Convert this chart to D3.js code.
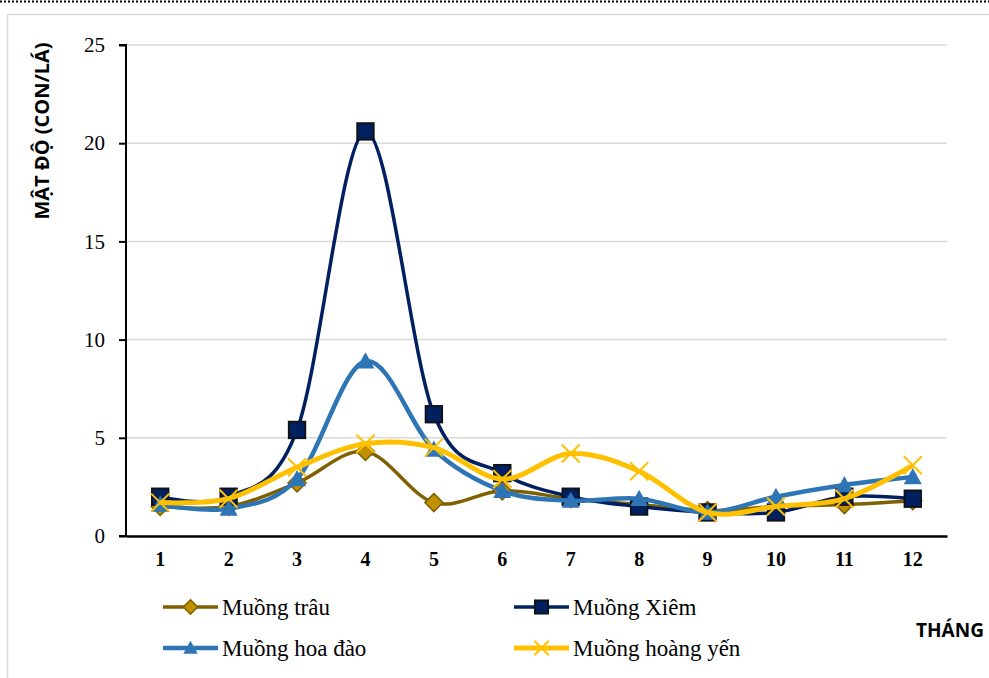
<!DOCTYPE html>
<html><head><meta charset="utf-8">
<script src="https://cdn.jsdelivr.net/npm/d3@7"></script>
<style>body{margin:0;background:#fff}svg{display:block}</style>
</head><body>
<svg id="c" width="989" height="678"></svg>
<script>
const months = ["1","2","3","4","5","6","7","8","9","10","11","12"];
const yTicks = [0,5,10,15,20,25];
const muongTrau   = [1.5,1.5,2.7,4.3,1.7,2.3,1.9,1.6,1.3,1.5,1.6,1.8];
const muongXiem   = [2.0,2.0,5.4,20.6,6.2,3.2,2.0,1.5,1.2,1.2,2.0,1.9];
const muongHoaDao = [1.6,1.4,2.9,8.9,4.4,2.3,1.8,1.9,1.2,2.0,2.6,3.0];
const muongHoangYen = [1.7,1.9,3.5,4.7,4.5,2.9,4.2,3.3,1.2,1.5,1.9,3.6];
const seriesNames = ["Muồng trâu","Muồng Xiêm","Muồng hoa đào","Muồng hoàng yến"];

const series = [
  {name:seriesNames[0], values:muongTrau, color:"#7F6000", fill:"#BF9000", sym:"diamond", w:3.5},
  {name:seriesNames[1], values:muongXiem, color:"#002060", fill:"#002060", sym:"square", w:3.5},
  {name:seriesNames[2], values:muongHoaDao, color:"#2E75B6", fill:"#2E75B6", sym:"triangle", w:4.5},
  {name:seriesNames[3], values:muongHoangYen, color:"#FFC000", fill:"none", sym:"x", w:5}
];

const svg = d3.select("#c");
const pL=126, pR=947, pT=45, pB=536;
const x = d3.scaleBand().domain(months).range([pL,pR]);
const y = d3.scaleLinear().domain([0,25]).range([pB,pT]);

// frame
svg.append("line").attr("x1",0).attr("x2",989).attr("y1",1.5).attr("y2",1.5)
  .attr("stroke","#000").attr("stroke-width",2).attr("stroke-dasharray","2,2");
svg.append("rect").attr("x",7.5).attr("y",14.5).attr("width",990).attr("height",680)
  .attr("fill","none").attr("stroke","#d9d9d9").attr("stroke-width",1.5);

// gridlines
svg.append("g").selectAll("line").data(yTicks.filter(d=>d>0)).join("line")
  .attr("x1",pL).attr("x2",pR).attr("y1",d=>y(d)).attr("y2",d=>y(d))
  .attr("stroke","#d9d9d9").attr("stroke-width",1.5);

// y axis
const ya = svg.append("g").attr("transform",`translate(${pL},0)`)
  .call(d3.axisLeft(y).tickValues(yTicks).tickSize(7).tickPadding(14));
ya.select(".domain").attr("stroke","#000").attr("stroke-width",2).attr("d",`M-7,${pT}H0V${pB}H-7`);
ya.selectAll(".tick line").attr("stroke","#000").attr("stroke-width",2);
ya.selectAll("text").attr("font-family","Liberation Serif, Times New Roman, serif").attr("font-size",21).attr("fill","#000");

// x axis
const xa = svg.append("g").attr("transform",`translate(0,${pB})`)
  .call(d3.axisBottom(x).tickSize(0).tickPadding(16));
xa.select(".domain").attr("stroke","#000").attr("stroke-width",2.5);
xa.selectAll("text").attr("font-family","Liberation Serif, Times New Roman, serif").attr("font-size",20).attr("font-weight","bold").attr("fill","#000");

// axis titles
svg.append("text").attr("transform","translate(49,131) rotate(-90)").attr("text-anchor","middle")
  .attr("font-family","Open Sans, sans-serif").attr("font-weight","bold").attr("font-size",20).attr("fill","#000")
  .text("MẬT ĐỘ (CON/LÁ)");
svg.append("text").attr("x",950).attr("y",637).attr("text-anchor","middle")
  .attr("font-family","Open Sans, sans-serif").attr("font-weight","bold").attr("font-size",19).attr("fill","#000")
  .text("THÁNG");

const line = d3.line().x((d,i)=>x(months[i])+x.bandwidth()/2).y(d=>y(d)).curve(d3.curveCatmullRom.alpha(0));

function drawMarker(g, s, cx, cy, scale){
  scale = scale||1;
  const h=9*scale;
  if(s.sym==="diamond"){
    g.append("path").attr("d",`M${cx},${cy-h}L${cx+h},${cy}L${cx},${cy+h}L${cx-h},${cy}Z`)
      .attr("fill",s.fill).attr("stroke",s.color).attr("stroke-width",1.5);
  } else if(s.sym==="square"){
    const q=h*0.92;
    g.append("rect").attr("x",cx-q).attr("y",cy-q).attr("width",2*q).attr("height",2*q)
      .attr("fill",s.fill).attr("stroke","#111").attr("stroke-width",1.8);
  } else if(s.sym==="triangle"){
    g.append("path").attr("d",`M${cx},${cy-h}L${cx+h},${cy+h*0.8}L${cx-h},${cy+h*0.8}Z`).attr("fill",s.fill);
  } else {
    g.append("path").attr("d",`M${cx-h},${cy-h}L${cx+h},${cy+h}M${cx+h},${cy-h}L${cx-h},${cy+h}`)
      .attr("stroke",s.color).attr("stroke-width",2).attr("fill","none");
  }
}

series.forEach(s=>{
  const g = svg.append("g");
  g.append("path").datum(s.values).attr("d",line).attr("fill","none")
    .attr("stroke",s.color).attr("stroke-width",s.w);
  s.values.forEach((v,i)=>drawMarker(g,s,x(months[i])+x.bandwidth()/2,y(v)));
});

// legend
const legPos = [[163,607],[514,607],[163,648],[514,648]];
series.forEach((s,i)=>{
  const [lx,ly]=legPos[i];
  const g=svg.append("g");
  g.append("line").attr("x1",lx).attr("x2",lx+55).attr("y1",ly).attr("y2",ly).attr("stroke",s.color).attr("stroke-width",s.w);
  drawMarker(g,s,lx+27.5,ly,0.8);
  g.append("text").attr("x",lx+59).attr("y",ly+8).attr("font-family","Liberation Serif, Times New Roman, serif")
    .attr("font-size",23).attr("fill","#000").text(s.name);
});
</script>
</body></html>
